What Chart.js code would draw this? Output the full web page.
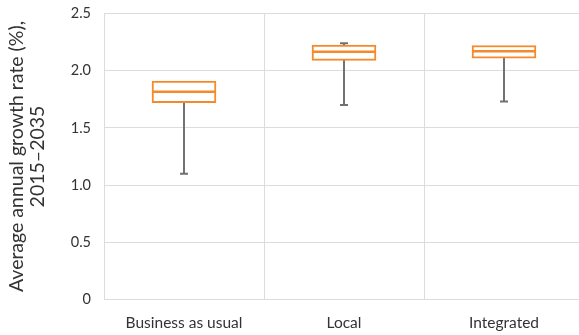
<!DOCTYPE html>
<html>
<head>
<meta charset="utf-8">
<script src="https://cdn.jsdelivr.net/npm/chart.js@4"></script>
<style>
  html, body { margin: 0; padding: 0; background: #fff; overflow: hidden; }
  #wrap { width: 579px; height: 335px; overflow: hidden; }
  #boxChart { display: block; }
</style>
</head>
<body>
<div id="wrap"><canvas id="boxChart" width="584" height="335"></canvas></div>
<script>
// Growth rate box plots
const categories = ["Business as usual", "Local", "Integrated"];
const minValues = [1.10, 1.70, 1.73];
const q1Values = [1.72, 2.09, 2.11];
const medianValues = [1.815, 2.165, 2.17];
const q3Values = [1.91, 2.225, 2.22];
const maxValues = [1.91, 2.24, 2.22];
const yTicks = [0, 0.5, 1.0, 1.5, 2.0, 2.5];

const orange = "#F58A2B";
const whiskerGrey = "#707070";
const gridGrey = "#dcdcdc";

// null where the whisker has no length, so nothing is drawn there
const pairs = (a, b) => a.map((v, i) => (v === b[i] ? null : [v, b[i]]));
const capsFor = (vals, ref) => vals.map((v, i) => (v === ref[i] ? null : v));

const ctx = document.getElementById("boxChart").getContext("2d");
new Chart(ctx, {
  type: "bar",
  data: {
    labels: categories,
    datasets: [
      {
        type: "line",
        data: capsFor(minValues, q1Values),
        showLine: false,
        pointStyle: "line",
        pointRadius: 4,
        pointBorderWidth: 2,
        pointBorderColor: whiskerGrey,
        order: 1
      },
      {
        type: "line",
        data: capsFor(maxValues, q3Values),
        showLine: false,
        pointStyle: "line",
        pointRadius: 4,
        pointBorderWidth: 2,
        pointBorderColor: whiskerGrey,
        order: 1
      },
      {
        type: "line",
        data: medianValues,
        showLine: false,
        pointStyle: "line",
        pointRadius: 32,
        pointBorderWidth: 2.5,
        pointBorderColor: orange,
        order: 0
      },
      {
        data: pairs(q1Values, q3Values),
        backgroundColor: "#ffffff",
        borderColor: orange,
        borderWidth: 2,
        borderSkipped: false,
        barThickness: 64,
        grouped: false,
        order: 2
      },
      {
        data: pairs(minValues, q1Values),
        backgroundColor: whiskerGrey,
        borderWidth: 0,
        barThickness: 1.3,
        grouped: false,
        order: 3
      },
      {
        data: pairs(q3Values, maxValues),
        backgroundColor: whiskerGrey,
        borderWidth: 0,
        barThickness: 1.3,
        grouped: false,
        order: 3
      }
    ]
  },
  options: {
    responsive: false,
    animation: false,
    layout: { autoPadding: false, padding: { top: 13.5, right: 0, left: 0, bottom: 0 } },
    plugins: {
      legend: { display: false },
      tooltip: { enabled: false }
    },
    scales: {
      x: {
        grid: {
          // only the lines between categories
          color: gridGrey,
          lineWidth: (c) => (c.type === "tick" && c.index > 0 ? 1 : 0),
          drawTicks: false,
          offset: true
        },
        border: { color: gridGrey },
        ticks: {
          color: "#333333",
          padding: 14,
          font: { family: "Lato", size: 15.5 }
        },
        afterFit: (scale) => {
          scale.height = 35.5;
          scale.paddingLeft = 0;
          scale.paddingRight = 0;
        }
      },
      y: {
        min: 0,
        max: 2.5,
        afterBuildTicks: (scale) => { scale.ticks = yTicks.map((v) => ({ value: v })); },
        grid: { color: gridGrey, lineWidth: 1, drawTicks: false },
        border: { color: gridGrey },
        ticks: {
          color: "#333333",
          padding: 13,
          font: { family: "Lato", size: 14.5 },
          callback: (v) => (v === 0 ? "0" : v.toFixed(1))
        },
        title: {
          display: true,
          text: ["Average annual growth rate (%),", "2015\u20132035"],
          color: "#333333",
          font: { family: "Lato", size: 19.5, lineHeight: 1.08 },
          padding: { top: 6.5, bottom: 0 }
        },
        afterFit: (scale) => {
          scale.width = 104;
          scale.paddingTop = 0;
          scale.paddingBottom = 0;
        }
      }
    }
  }
});
</script>
</body>
</html>
